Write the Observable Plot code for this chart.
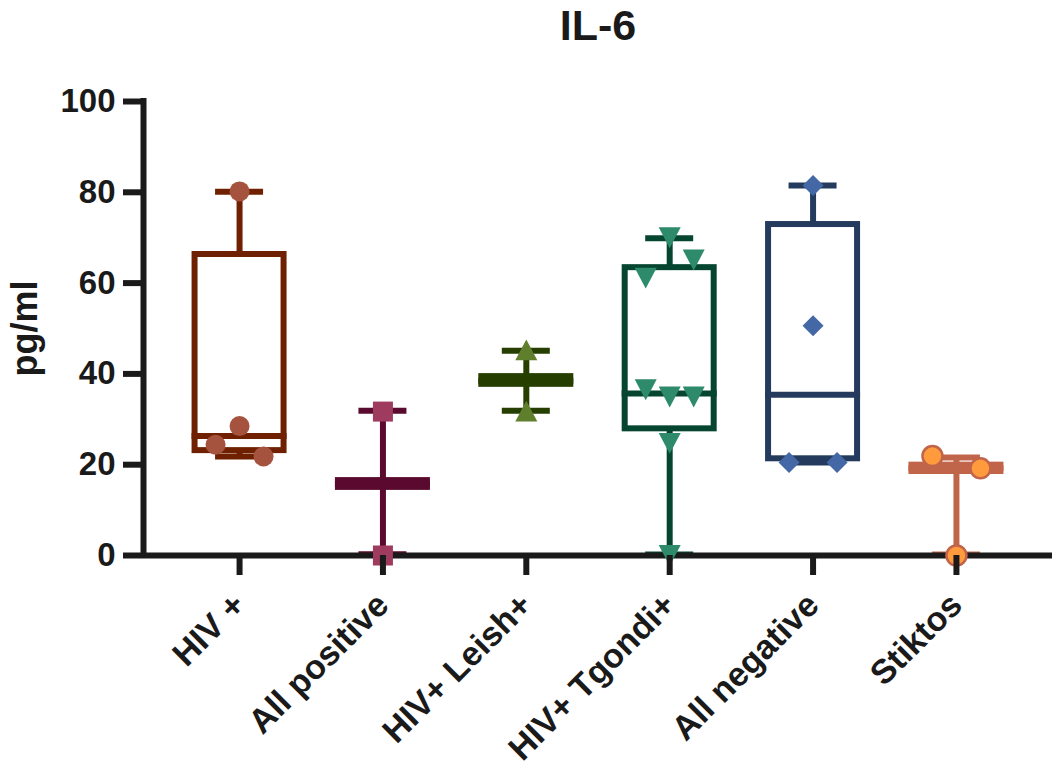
<!DOCTYPE html>
<html>
<head>
<meta charset="utf-8">
<script src="https://cdn.jsdelivr.net/npm/d3@7"></script>
<script src="https://cdn.jsdelivr.net/npm/@observablehq/plot@0.6"></script>
<style>
  html, body { margin: 0; padding: 0; background: #ffffff; }
  #chart svg { display: block; }
</style>
</head>
<body>
<div id="chart"></div>
<script>
// ---------------- data ----------------
const groups = ["HIV +", "All positive", "HIV+ Leish+", "HIV+ Tgondi+", "All negative", "Stiktos"];

// individual measurements (pg/ml), per group
const hivPos      = [80.2, 28.5, 24.4, 21.8];
const allPositive = [31.7, 0.0];
const hivLeish    = [45.3, 31.8];
const hivTgondi   = [70.0, 61.1, 65.1, 34.9, 36.5, 34.9, 24.7, 0.0];
const allNegative = [81.5, 50.6, 20.5, 20.5];
const stiktos     = [21.9, 19.2, 0.0];

// box & whisker summary (pg/ml), per group
const whiskerMin = [21.8, 0.3, 31.9, 0.2, 20.5, 0.2];
const q1         = [23.1, 15.0, 37.7, 27.9, 21.3, 18.5];
const median     = [26.3, 15.7, 38.5, 35.7, 35.4, 19.2];
const q3         = [66.3, 16.5, 39.4, 63.4, 72.9, 19.9];
const whiskerMax = [80.1, 31.9, 45.1, 69.9, 81.5, 21.6];

const yTicks = [0, 20, 40, 60, 80, 100];
const title = "IL-6";
const yLabel = "pg/ml";

// ---------------- styles ----------------
const FONT = '"Liberation Sans", Arial, Helvetica, sans-serif';
const INK = "#1a1a1a";
const lineColors  = ["#6E2000", "#5B0A2F", "#263F00", "#064530", "#243B5E", "#C1654A"];
const pointColors = ["#A5533E", "#9E3B5F", "#607F2C", "#2D8A6B", "#4468A5", "#FF9A3D"];
const pointStroke = [null, null, null, null, null, "#C1654A"];

// custom symbols: r is the half-extent of the shape
const triUp = { draw(ctx, size) { const r = Math.sqrt(size / Math.PI), h = r * 1.9;
  ctx.moveTo(0, -h / 2); ctx.lineTo(r, h / 2); ctx.lineTo(-r, h / 2); ctx.closePath(); } };
const triDown = { draw(ctx, size) { const r = Math.sqrt(size / Math.PI), h = r * 1.9;
  ctx.moveTo(-r, -h / 2); ctx.lineTo(r, -h / 2); ctx.lineTo(0, h / 2); ctx.closePath(); } };
const square = { draw(ctx, size) { const r = Math.sqrt(size / Math.PI);
  ctx.rect(-r, -r, 2 * r, 2 * r); } };
const diamond = { draw(ctx, size) { const r = Math.sqrt(size / Math.PI);
  ctx.moveTo(0, -r); ctx.lineTo(r, 0); ctx.lineTo(0, r); ctx.lineTo(-r, 0); ctx.closePath(); } };
const symbols = ["circle", square, triUp, triDown, diamond, "circle"];
const symbolR = [10, 10, 11, 11, 10.5, 10];

// ---------------- layout helpers ----------------
const W = 1052, H = 769, ML = 143, MR = 0, MT = 101, MB = 214;
const pad = 0.67;
const xDomain = [-pad, groups.length - 1 + pad];
const pxPerUnit = (W - ML - MR) / (xDomain[1] - xDomain[0]);
const px = p => p / pxPerUnit;           // pixels -> x units
const STROKE = 6, BOX_HALF = 44.5, MED_HALF = 47.5, CAP_HALF = 24, SPREAD = 24, ROW_GAP = 6.6;

const boxes = groups.map((g, i) => ({
  i, group: g, min: whiskerMin[i], q1: q1[i], med: median[i], q3: q3[i], max: whiskerMax[i]
}));

// spread points that sit at nearly the same height into a centred row
function layoutPoints(values, gi) {
  const order = values.map((v, k) => k).sort((a, b) => values[b] - values[a]);
  const rows = [];
  let cur = [];
  for (const k of order) {
    if (cur.length && values[cur[cur.length - 1]] - values[k] > ROW_GAP) { rows.push(cur); cur = []; }
    cur.push(k);
  }
  if (cur.length) rows.push(cur);
  const out = [];
  for (const row of rows) {
    row.sort((a, b) => a - b);
    const n = row.length;
    const pos = n === 1 ? [0] : d3.range(n).map(j => -SPREAD + (2 * SPREAD * j) / (n - 1));
    const m = Math.floor((n - 1) / 2);
    const slotOrder = [];
    if (n % 2 === 1) { slotOrder.push(m); for (let s = 1; s <= m; s++) slotOrder.push(m - s, m + s); }
    else { for (let s = 0; s < n / 2; s++) slotOrder.push(m - s, m + 1 + s); }
    row.forEach((k, j) => out.push({ group: gi, value: values[k], x: gi + px(pos[slotOrder[j]]) }));
  }
  return out;
}
const seriesValues = [hivPos, allPositive, hivLeish, hivTgondi, allNegative, stiktos];
const pointSets = seriesValues.map((vals, gi) => layoutPoints(vals, gi));

// ---------------- marks ----------------
const marks = [];
boxes.forEach((b, gi) => {
  const c = lineColors[gi];
  marks.push(
    Plot.ruleX([b], { x: "i", y1: "min", y2: "q1", stroke: c, strokeWidth: STROKE }),
    Plot.ruleX([b], { x: "i", y1: "q3", y2: "max", stroke: c, strokeWidth: STROKE }),
    Plot.ruleY([b], { y: "max", x1: d => d.i - px(CAP_HALF), x2: d => d.i + px(CAP_HALF), stroke: c, strokeWidth: STROKE }),
    Plot.ruleY([b], { y: "min", x1: d => d.i - px(CAP_HALF), x2: d => d.i + px(CAP_HALF), stroke: c, strokeWidth: STROKE }),
    Plot.rect([b], { x1: d => d.i - px(BOX_HALF), x2: d => d.i + px(BOX_HALF), y1: "q1", y2: "q3",
      fill: "none", stroke: c, strokeWidth: STROKE }),
    Plot.ruleY([b], { y: "med", x1: d => d.i - px(MED_HALF), x2: d => d.i + px(MED_HALF), stroke: c, strokeWidth: STROKE })
  );
});

// axis lines
marks.push(
  Plot.ruleY([0], { stroke: INK, strokeWidth: STROKE }),
  Plot.ruleX([xDomain[0]], { y1: 0, y2: 100, stroke: INK, strokeWidth: STROKE, strokeLinecap: "square" })
);

// points on top
pointSets.forEach((pts, gi) => {
  marks.push(Plot.dot(pts, {
    x: "x", y: "value", r: symbolR[gi], symbol: symbols[gi],
    fill: pointColors[gi],
    stroke: pointStroke[gi] || "none", strokeWidth: pointStroke[gi] ? 2.5 : 0
  }));
});

marks.push(
  Plot.axisY({ ticks: yTicks, tickSize: 20, tickPadding: 8, strokeWidth: STROKE, stroke: INK,
    fill: INK, fontSize: 33, fontWeight: "bold", label: null }),
  Plot.axisX({ ticks: d3.range(groups.length), tickFormat: i => groups[i], tickSize: 20, tickPadding: 24,
    tickRotate: -45, strokeWidth: STROKE, stroke: INK, fill: INK, fontSize: 34, fontWeight: "bold", label: null }),
  Plot.text([yLabel], { frameAnchor: "left", textAnchor: "middle", lineAnchor: "middle", rotate: -90, dx: -118,
    fontSize: 36, fontWeight: "bold", fill: INK }),
  Plot.text([title], { frameAnchor: "top", lineAnchor: "middle", dy: -75, fontSize: 43, fontWeight: "bold", fill: INK })
);

const chart = Plot.plot({
  width: W, height: H,
  marginLeft: ML, marginRight: MR, marginTop: MT, marginBottom: MB,
  style: { fontFamily: FONT, background: "#ffffff", overflow: "visible" },
  x: { type: "linear", domain: xDomain, axis: null },
  y: { domain: [0, 100], axis: null },
  marks
});
document.getElementById("chart").appendChild(chart);
</script>
</body>
</html>
